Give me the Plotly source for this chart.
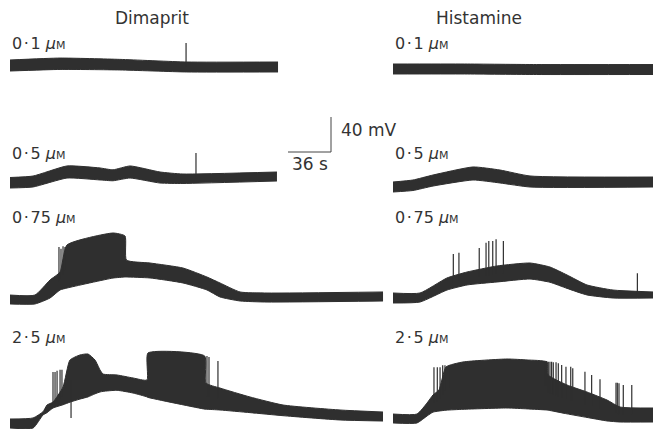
import numpy as np
import plotly.graph_objects as go

# ---------------- data (time in s from trace start, membrane potential in mV relative to rest) ----
drugs = ["Dimaprit", "Histamine"]
concentrations = ["0·1", "0·5", "0·75", "2·5"]

# Dimaprit 0.1 uM
dim01_t = [0, 41.9, 92.0, 148.0, 224.4]
dim01_up = [6.3, 8.5, 7.0, 4.0, 4.0]
dim01_lo = [-6.3, -4.5, -5.1, -7.4, -7.4]
dim01_spk_t = [147.4]
dim01_spk_v = [25.7]

# Histamine 0.1 uM
his01_t = [0, 60.0, 120.0, 217.7]
his01_up = [5.7, 5.7, 5.1, 5.1]
his01_lo = [-5.7, -5.7, -6.3, -6.3]
his01_spk_t = []
his01_spk_v = []

# Dimaprit 0.5 uM
dim05_t = [0, 19.3, 47.7, 75.4, 86.2, 100.5, 125.6, 144.8, 223.5]
dim05_up = [5.7, 7.4, 18.9, 16.6, 14.5, 18.9, 12.0, 9.7, 12.0]
dim05_lo = [-6.3, -5.1, 5.1, 2.9, 2.0, 5.1, -0.6, -1.1, 1.7]
dim05_spk_t = [155.7]
dim05_spk_v = [33.7]

# Histamine 0.5 uM
his05_t = [0, 16.7, 33.5, 67.0, 89.6, 114.7, 217.7]
his05_up = [5.7, 8.0, 13.7, 22.9, 19.4, 12.6, 11.4]
his05_lo = [-5.7, -4.0, 1.1, 8.0, 4.6, 0.0, 0.0]
his05_spk_t = []
his05_spk_v = []

# Dimaprit 0.75 uM
dim075_t = [0, 20.9, 33.5, 41.9, 47.7, 86.2, 96.3, 97.5, 117.2, 144.8, 164.9, 175.8, 192.6, 215.2, 312.3]
dim075_up = [5.1, 5.1, 22.3, 31.4, 62.3, 76.0, 72.6, 45.1, 41.7, 36.0, 25.7, 18.9, 8.6, 7.4, 8.6]
dim075_lo = [-5.1, -5.1, 1.7, 10.9, 13.1, 24.5, 25.7, 25.7, 24.6, 18.9, 10.9, 2.9, -1.7, -2.9, -1.7]
dim075_spk_t = [41.0, 42.7, 44.4, 46.0]
dim075_spk_v = [60.0, 58.0, 61.0, 60.0]

# Histamine 0.75 uM
his075_t = [0, 22.6, 45.2, 62.0, 87.1, 114.7, 131.4, 145.7, 162.4, 184.2, 217.7]
his075_up = [5.7, 5.7, 22.9, 29.7, 36.6, 40.0, 35.4, 26.3, 14.9, 9.1, 6.9]
his075_lo = [-5.7, -4.6, 9.1, 14.9, 18.3, 21.7, 18.0, 11.0, 3.5, 0.0, 0.0]
his075_spk_t = [50.5, 55.2, 72.2, 77.9, 80.2, 83.5, 86.3, 92.4, 204.6]
his075_spk_v = [50.3, 51.8, 57.1, 63.2, 65.1, 65.1, 67.1, 65.1, 28.2]

# Dimaprit 2.5 uM
dim25_t = [0, 19.3, 27.6, 31.0, 36.0, 44.4, 50.2, 58.6, 65.3, 71.2, 75.4, 77.9, 89.6, 103.0, 114.7,
           115.5, 163.0, 164.0, 175.8, 200.9, 228.6, 276.3, 312.3]
dim25_up = [5.7, 6.9, 14.0, 21.7, 25.1, 42.3, 73.1, 78.9, 80.0, 73.1, 61.7, 57.1, 56.0, 52.6, 50.3,
            81.1, 77.7, 46.9, 41.1, 30.9, 21.7, 16.0, 13.7]
dim25_lo = [-4.6, -4.6, 10.3, 13.0, 18.3, 22.0, 25.0, 28.5, 31.0, 34.5, 36.6, 37.3, 38.5, 35.4, 31.0,
            30.4, 17.0, 16.9, 16.0, 13.0, 9.5, 4.6, 3.4]
dim25_spk_t = [36.0, 37.7, 39.4, 41.9, 43.5, 51.1, 164.9, 166.6, 174.1]
dim25_spk_v = [59.4, 59.4, 61.0, 62.0, 62.0, 6.9, 77.7, 76.6, 72.0]

# Histamine 2.5 uM
his25_t = [0, 20.1, 28.5, 33.5, 38.5, 44.4, 58.6, 95.4, 112.2, 128.9, 130.0, 145.7, 162.4, 179.2, 190.1, 217.7]
his25_up = [5.1, 5.1, 17.7, 26.9, 32.6, 58.9, 64.6, 68.0, 66.9, 64.6, 49.7, 38.3, 30.3, 21.1, 13.1, 12.0]
his25_lo = [-5.1, -5.1, 2.9, 7.3, 8.5, 9.5, 10.5, 12.0, 11.0, 9.7, 9.5, 5.3, 1.2, -2.8, -4.0, -4.0]
his25_spk_t = [34.3, 37.1, 39.4, 41.6, 43.5, 47.7,
               127.3, 128.7, 130.0, 131.4, 132.8, 134.2, 136.5, 138.4, 141.2, 144.8, 148.8, 150.5,
               160.7, 166.3, 173.3, 186.7, 187.8, 189.2, 192.8, 199.9]
his25_spk_v = [58.6, 58.6, 58.6, 61.0, 61.0, 61.0,
               65.7, 65.7, 64.9, 64.9, 64.9, 64.2, 64.2, 63.1, 61.1, 59.2, 59.2, 57.3,
               53.5, 49.7, 44.8, 40.9, 40.9, 40.2, 38.3, 38.3]

# calibration bar
scale_time_s = 36
scale_volt_mV = 40

# ---------------- layout (page geometry) ----------------
W, H = 653, 429
PX_PER_S = 43 / 36.0
PX_PER_MV = 35 / 40.0
X_MAX = W / PX_PER_S
Y_MIN = -H / PX_PER_MV

col_x_px = {"Dimaprit": 10, "Histamine": 393}
row_y_px = {
    ("Dimaprit", "0·1"): 65.5, ("Histamine", "0·1"): 69.0,
    ("Dimaprit", "0·5"): 182.5, ("Histamine", "0·5"): 187.0,
    ("Dimaprit", "0·75"): 299.5, ("Histamine", "0·75"): 298.0,
    ("Dimaprit", "2·5"): 424.0, ("Histamine", "2·5"): 418.5,
}
label_y_px = {"0·1": 43, "0·5": 153, "0·75": 217, "2·5": 337}

traces_data = {
    ("Dimaprit", "0·1"): (dim01_t, dim01_up, dim01_lo, dim01_spk_t, dim01_spk_v),
    ("Histamine", "0·1"): (his01_t, his01_up, his01_lo, his01_spk_t, his01_spk_v),
    ("Dimaprit", "0·5"): (dim05_t, dim05_up, dim05_lo, dim05_spk_t, dim05_spk_v),
    ("Histamine", "0·5"): (his05_t, his05_up, his05_lo, his05_spk_t, his05_spk_v),
    ("Dimaprit", "0·75"): (dim075_t, dim075_up, dim075_lo, dim075_spk_t, dim075_spk_v),
    ("Histamine", "0·75"): (his075_t, his075_up, his075_lo, his075_spk_t, his075_spk_v),
    ("Dimaprit", "2·5"): (dim25_t, dim25_up, dim25_lo, dim25_spk_t, dim25_spk_v),
    ("Histamine", "2·5"): (his25_t, his25_up, his25_lo, his25_spk_t, his25_spk_v),
}

INK = "#2f2f2f"
TEXT = "#333333"
FONT = "DejaVu Sans"

fig = go.Figure()

for (drug, conc), (t, up, lo, st, sv) in traces_data.items():
    x0 = col_x_px[drug] / PX_PER_S
    y0 = -row_y_px[(drug, conc)] / PX_PER_MV
    t = np.asarray(t, float)
    up = np.asarray(up, float)
    lo = np.asarray(lo, float)
    edge = dict(color=INK, width=1, shape="spline", smoothing=0.5)
    fig.add_trace(go.Scatter(x=t + x0, y=lo + y0, mode="lines", line=edge,
                             hoverinfo="skip", showlegend=False))
    fig.add_trace(go.Scatter(x=t + x0, y=up + y0, mode="lines", line=edge,
                             fill="tonexty", fillcolor=INK,
                             hoverinfo="skip", showlegend=False))
    if len(st):
        mid = (up + lo) / 2.0
        sx, sy = [], []
        for ti, vi in zip(st, sv):
            base = float(np.interp(ti, t, mid))
            sx += [ti + x0, ti + x0, None]
            sy += [base + y0, vi + y0, None]
        fig.add_trace(go.Scatter(x=sx, y=sy, mode="lines", line=dict(color="#2f2f2f", width=1.2),
                                 hoverinfo="skip", showlegend=False))

# calibration bar
bar_x = 331 / PX_PER_S
bar_y = -152 / PX_PER_MV
fig.add_trace(go.Scatter(x=[bar_x - scale_time_s, bar_x, bar_x],
                         y=[bar_y, bar_y, bar_y + scale_volt_mV],
                         mode="lines", line=dict(color="#444444", width=1),
                         hoverinfo="skip", showlegend=False))

def px(xp, yp):
    return xp / W, 1 - yp / H

annotations = []
for drug, cx in [("Dimaprit", 152), ("Histamine", 479)]:
    ax, ay = px(cx, 18)
    annotations.append(dict(x=ax, y=ay, text=drug, xanchor="center", yanchor="middle",
                            font=dict(family=FONT, size=17, color=TEXT)))
for drug in drugs:
    for conc in concentrations:
        ax, ay = px(col_x_px[drug], label_y_px[conc])
        txt = conc.replace("·", "\u200a·\u200a") + " <i>µ</i><span style='font-size:11px'>M</span>"
        annotations.append(dict(x=ax, y=ay, text=txt, xanchor="left", yanchor="middle",
                                font=dict(family=FONT, size=16, color=TEXT)))
ax, ay = px(339, 130)
annotations.append(dict(x=ax, y=ay, text=f"{scale_volt_mV} mV", xanchor="left", yanchor="middle",
                        font=dict(family=FONT, size=17, color=TEXT)))
ax, ay = px(310, 164)
annotations.append(dict(x=ax, y=ay, text=f"{scale_time_s} s", xanchor="center", yanchor="middle",
                        font=dict(family=FONT, size=17, color=TEXT)))
for a in annotations:
    a.update(xref="paper", yref="paper", showarrow=False)

fig.update_layout(
    width=W, height=H, autosize=False,
    margin=dict(l=0, r=0, t=0, b=0, pad=0),
    paper_bgcolor="white", plot_bgcolor="white",
    xaxis=dict(range=[0, X_MAX], visible=False, fixedrange=True),
    yaxis=dict(range=[Y_MIN, 0], visible=False, fixedrange=True),
    annotations=annotations,
    showlegend=False,
)

fig.write_html("out.html", config={"displayModeBar": False})
